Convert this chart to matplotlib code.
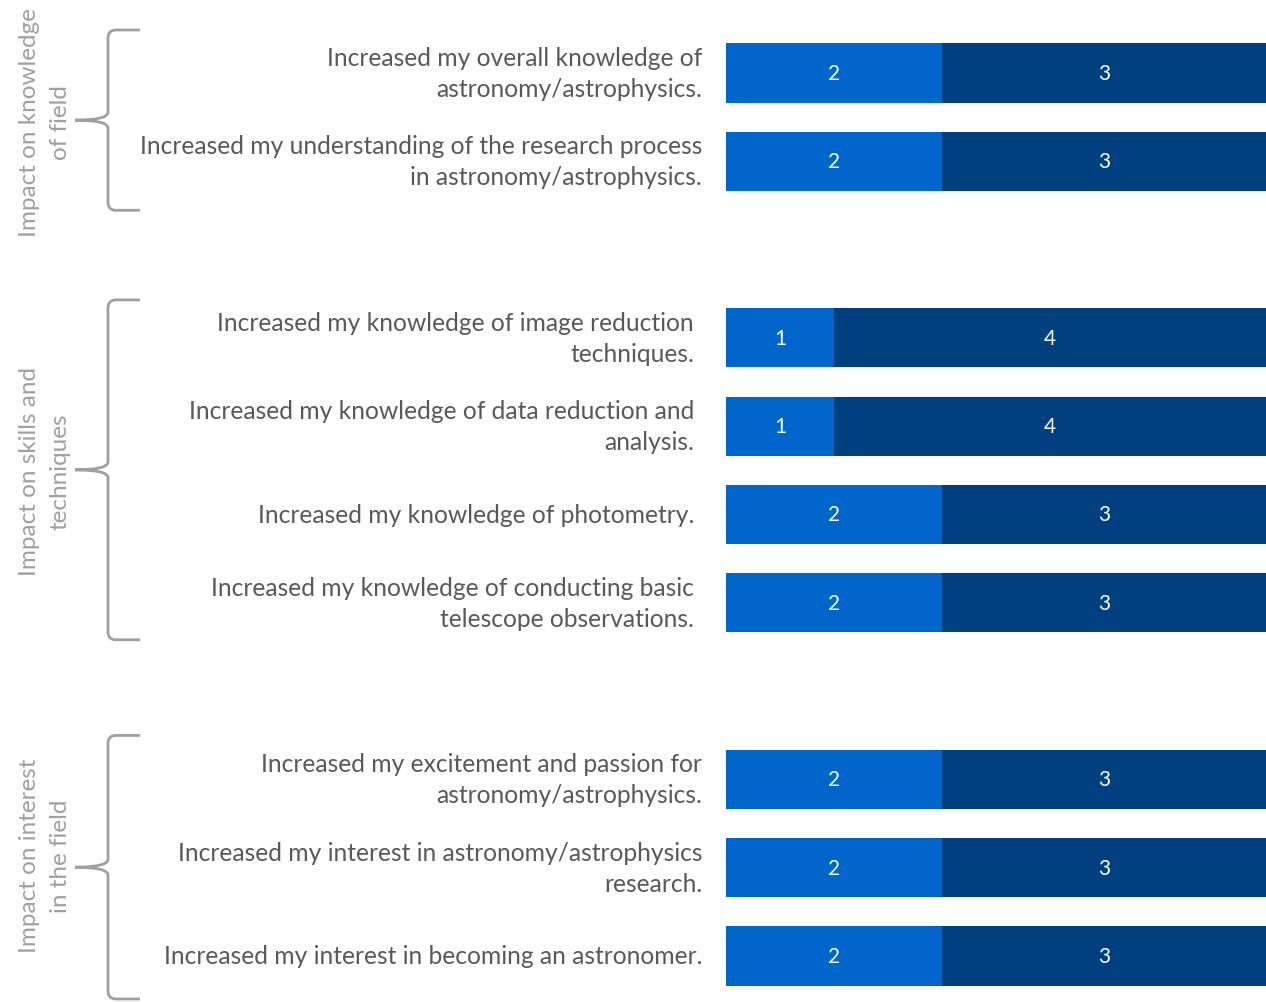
import matplotlib
matplotlib.use("Agg")
import matplotlib.pyplot as plt
from matplotlib.path import Path
from matplotlib.patches import PathPatch

plt.rcParams['font.family'] = ['Lato', 'DejaVu Sans']

# Survey statements, grouped by theme
groups = [
    "Impact on knowledge\nof field",
    "Impact on skills and\ntechniques",
    "Impact on interest\nin the field",
]
statements = [
    ["Increased my overall knowledge of\nastronomy/astrophysics.",
     "Increased my understanding of the research process\nin astronomy/astrophysics."],
    ["Increased my knowledge of image reduction\ntechniques.",
     "Increased my knowledge of data reduction and\nanalysis.",
     "Increased my knowledge of photometry.",
     "Increased my knowledge of conducting basic\ntelescope observations."],
    ["Increased my excitement and passion for\nastronomy/astrophysics.",
     "Increased my interest in astronomy/astrophysics\nresearch.",
     "Increased my interest in becoming an astronomer."],
]
# Response counts per statement (two response levels)
agree = [[2, 2], [1, 1, 2, 2], [2, 2, 2]]
strongly_agree = [[3, 3], [4, 4, 3, 3], [3, 3, 3]]

c_light = "#0066CC"
c_dark = "#003F80"
label_color = "#595959"
group_color = "#A0A0A0"

W, H = 1266, 1003
fig = plt.figure(figsize=(W / 100, H / 100), dpi=100)

# bar axes occupy the right part of the figure; one slot per statement,
# one empty slot between theme groups
slot_px = 88.3
first_px = 74
ax = fig.add_axes([726 / W, 0, 540 / W, 1])
top = -first_px / slot_px
bottom = top + H / slot_px
ax.set_ylim(bottom, top)
ax.set_xlim(0, 5)
ax.axis("off")

# overlay in pixel coordinates for labels and braces
ov = fig.add_axes([0, 0, 1, 1])
ov.set_xlim(0, W)
ov.set_ylim(H, 0)
ov.axis("off")

def y_to_px(y):
    return (y - top) * slot_px

label_right = [702, 694, 702]
brace_pad_top = [43, 38, 44]
brace_pad_bottom = [49, 37, 44]
group_label_shift = [1, 1, -12]

pos = 0
for g, (gname, stmts) in enumerate(zip(groups, statements)):
    ys = []
    for i, s in enumerate(stmts):
        a = agree[g][i]
        sa = strongly_agree[g][i]
        ax.barh(pos, a, height=0.67, color=c_light, edgecolor="none")
        ax.barh(pos, sa, left=a, height=0.67, color=c_dark, edgecolor="none")
        ax.text(a / 2, pos, str(a), color="white", ha="center", va="center", fontsize=15)
        ax.text(a + sa / 2, pos, str(sa), color="white", ha="center", va="center", fontsize=15)
        ov.text(label_right[g], y_to_px(pos), s, ha="right", va="center",
                fontsize=17.7, color=label_color, linespacing=1.42)
        ys.append(pos)
        pos += 1
    pos += 1

    # curly brace spanning the group
    y0 = y_to_px(ys[0]) - brace_pad_top[g]
    y1 = min(y_to_px(ys[-1]) + brace_pad_bottom[g], 1000)
    ym = (y0 + y1) / 2
    xr, xs, xt = 140, 108, 75
    r = 8
    verts = [
        (xr, y0), (xs + r, y0), (xs, y0), (xs, y0 + r),
        (xs, ym - r), (xs, ym), (xt, ym),
        (xs, ym), (xs, ym + r),
        (xs, y1 - r), (xs, y1), (xs + r, y1), (xr, y1),
    ]
    codes = [Path.MOVETO, Path.LINETO, Path.CURVE3, Path.CURVE3,
             Path.LINETO, Path.CURVE3, Path.CURVE3,
             Path.CURVE3, Path.CURVE3,
             Path.LINETO, Path.CURVE3, Path.CURVE3, Path.LINETO]
    ov.add_patch(PathPatch(Path(verts, codes), facecolor="none",
                           edgecolor=group_color, lw=2))
    ov.text(45, ym + group_label_shift[g], gname, rotation=90, ha="center",
            va="center", fontsize=17.5, color=group_color, linespacing=1.55)

fig.savefig("out.png", dpi=100)
